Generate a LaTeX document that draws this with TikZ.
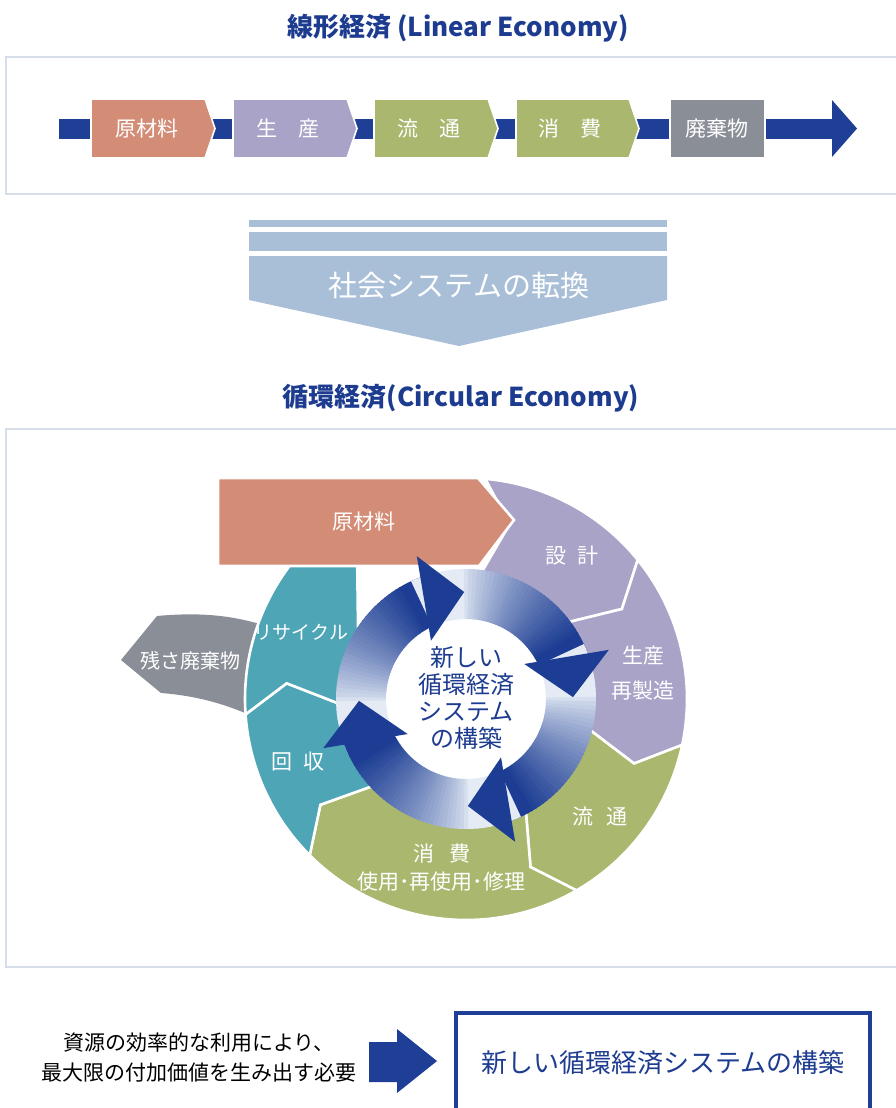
\documentclass[tikz,border=0pt]{standalone}
\usepackage{fontspec}
\setmainfont{Noto Sans CJK JP}
\definecolor{tblue}{HTML}{1D3C8F}
\definecolor{dblue}{HTML}{1F3F96}
\definecolor{rdark}{HTML}{1C3D93}
\definecolor{rlight}{HTML}{E4EBF5}
\definecolor{csalmon}{HTML}{D38C75}
\definecolor{clav}{HTML}{A9A3C8}
\definecolor{cgreen}{HTML}{A9B76F}
\definecolor{cteal}{HTML}{4DA5B6}
\definecolor{cgray}{HTML}{8A8E97}
\definecolor{csteel}{HTML}{A9BFD8}
\definecolor{cframe}{HTML}{D6DEE9}
\tikzset{
  frame/.style={draw=cframe, line width=2.5pt},
  chev/.style={draw=white, line width=1.6pt},
  seg/.style={draw=white, line width=2.6pt, line join=miter},
  ttl/.style={text=tblue, font=\fontsize{26}{30}\selectfont\bfseries},
  lab/.style={text=white, font=\fontsize{21}{24}\selectfont},
  clab/.style={text=white, font=\fontsize{21}{24}\selectfont, align=center},
}
\newcommand\ringseg[3]{%
  \path[seg, fill=#3] (#1:221) arc[start angle=#1, end angle=#2, radius=221]
    -- ({#2-9}:180) -- (#2:118) arc[start angle=#2, end angle=#1, radius=118]
    -- ({#1-9}:180) -- cycle;}
\begin{document}
\begin{tikzpicture}[x=1pt,y=-1pt]
\useasboundingbox (0,0) rectangle (896,1108);
\clip (0,0) rectangle (896,1108);

% ---------- Linear economy ----------
\node[ttl] (t1) at (458,28) {線形経済 (Linear Economy)};
\draw[frame] (6,57) rectangle (910,194);
\fill[dblue] (59,119) rectangle (834,139);
\fill[dblue] (832,100) -- (857,128.5) -- (832,157) -- cycle;
\path[chev, fill=csalmon] (91,99) -- (205,99) -- (215,128.5) -- (205,158) -- (91,158) -- cycle;
\path[chev, fill=clav]    (233,99) -- (347,99) -- (357,128.5) -- (347,158) -- (233,158) -- cycle;
\path[chev, fill=cgreen]  (374,99) -- (488,99) -- (498,128.5) -- (488,158) -- (374,158) -- cycle;
\path[chev, fill=cgreen]  (516,99) -- (629,99) -- (639,128.5) -- (629,158) -- (516,158) -- cycle;
\path[chev, fill=cgray]   (670,99) rectangle (765,158);
\node[lab] (l1) at (147,128.5) {原材料};
\node[lab] (l2) at (288,128.5) {生\hspace{21pt}産};
\node[lab] (l3) at (429,128.5) {流\hspace{21pt}通};
\node[lab] (l4) at (570,128.5) {消\hspace{21pt}費};
\node[lab] (l5) at (717,128.5) {廃棄物};

% ---------- transition arrow ----------
\fill[csteel] (249,220) rectangle (667,227);
\fill[csteel] (249,232) rectangle (667,251);
\fill[csteel] (249,256) -- (667,256) -- (667,300) -- (459,346) -- (249,300) -- cycle;
\node[text=white, font=\fontsize{29}{32}\selectfont] (tr) at (459,286) {社会システムの転換};

% ---------- Circular economy ----------
\node[ttl] (t2) at (461,398) {循環経済(Circular Economy)};
\draw[frame] (6,429) rectangle (910,967);

% residual waste arrow
\fill[cgray] (121,660) -- (157,616) .. controls (200,612) and (235,615) .. (272,628)
  -- (272,726) .. controls (235,706) and (200,696) .. (161,693) -- cycle;

\begin{scope}[shift={(466,699)}, yscale=-1]
  \ringseg{85}{39}{clav}
  \ringseg{39}{-12}{clav}
  \ringseg{-12}{-60}{cgreen}
  \ringseg{-60}{-135}{cgreen}
  \ringseg{-135}{-176}{cteal}
  \path[seg, fill=cteal] (-176:118) -- (-185:180) -- (-176:221)
    arc[start angle=-176, end angle=-219.4, radius=221]
    -- (-109,152) -- (-108,72) -- (-106,50) -- cycle;
\end{scope}

% raw material arrow
\path[seg, fill=csalmon] (218,478) -- (478,478) -- (514,520) -- (479,566) -- (218,566) -- cycle;

% gradient ring arrows
\begin{scope}[shift={(466,699)}, yscale=-1]
  \foreach \T in {90,0,-90,180} {
    \foreach \i in {0,...,47} {
      \pgfmathsetmacro{\a}{\T+115-2*\i}
      \pgfmathsetmacro{\t}{max(0,min(1,(\T+93-\a)/62))}
      \pgfmathtruncatemacro{\p}{100*(\t^0.75)}
      \fill[rdark!\p!rlight] (\a:80) arc[start angle=\a, end angle={\a-2.6}, radius=80]
        -- ({\a-2.6}:130) arc[start angle={\a-2.6}, end angle=\a, radius=130] -- cycle;
    }
  }
  \foreach \T in {90,0,-90,180} {
    \fill[rdark] ({\T+31}:68) -- ({\T+19}:151) -- ({\T+1}:107) -- cycle;
  }
\end{scope}

\node[text=tblue, font=\fontsize{24}{27}\selectfont, align=center] (ctr) at (466,698)
  {新しい\\循環経済\\システム\\の構築};

% segment labels
\node[lab] (c0) at (364,522) {原材料};
\node[clab] (c1) at (572,556) {設\hspace{12pt}計};
\node[clab] (c2) at (643,656) {生産};
\node[clab] (c2b) at (643,691) {再製造};
\node[clab] (c3) at (600,816) {流\hspace{14pt}通};
\node[clab] (c4) at (442,854) {消\hspace{15pt}費};
\node[clab] (c4b) at (441,882) {使用･再使用･修理};
\node[clab] (c5) at (298,762) {回\hspace{12pt}収};
\node[text=white, font=\fontsize{19}{22}\selectfont] (c6) at (301,632) {リサイクル};
\node[text=white, font=\fontsize{20}{24}\selectfont] (c7) at (190,661) {残さ廃棄物};

% ---------- bottom ----------
\node[text=black, font=\fontsize{21}{30}\selectfont, align=center] (b1) at (199,1057)
  {資源の効率的な利用により、\\最大限の付加価値を生み出す必要};
\fill[dblue] (369,1042) -- (397,1042) -- (397,1029) -- (437,1061) -- (397,1093)
  -- (397,1082) -- (369,1082) -- cycle;
\draw[dblue, line width=4.5pt] (456,1013) rectangle (870,1140);
\node[text=tblue, font=\fontsize{26}{30}\selectfont] (b2) at (663,1063) {新しい循環経済システムの構築};
\end{tikzpicture}
\end{document}
